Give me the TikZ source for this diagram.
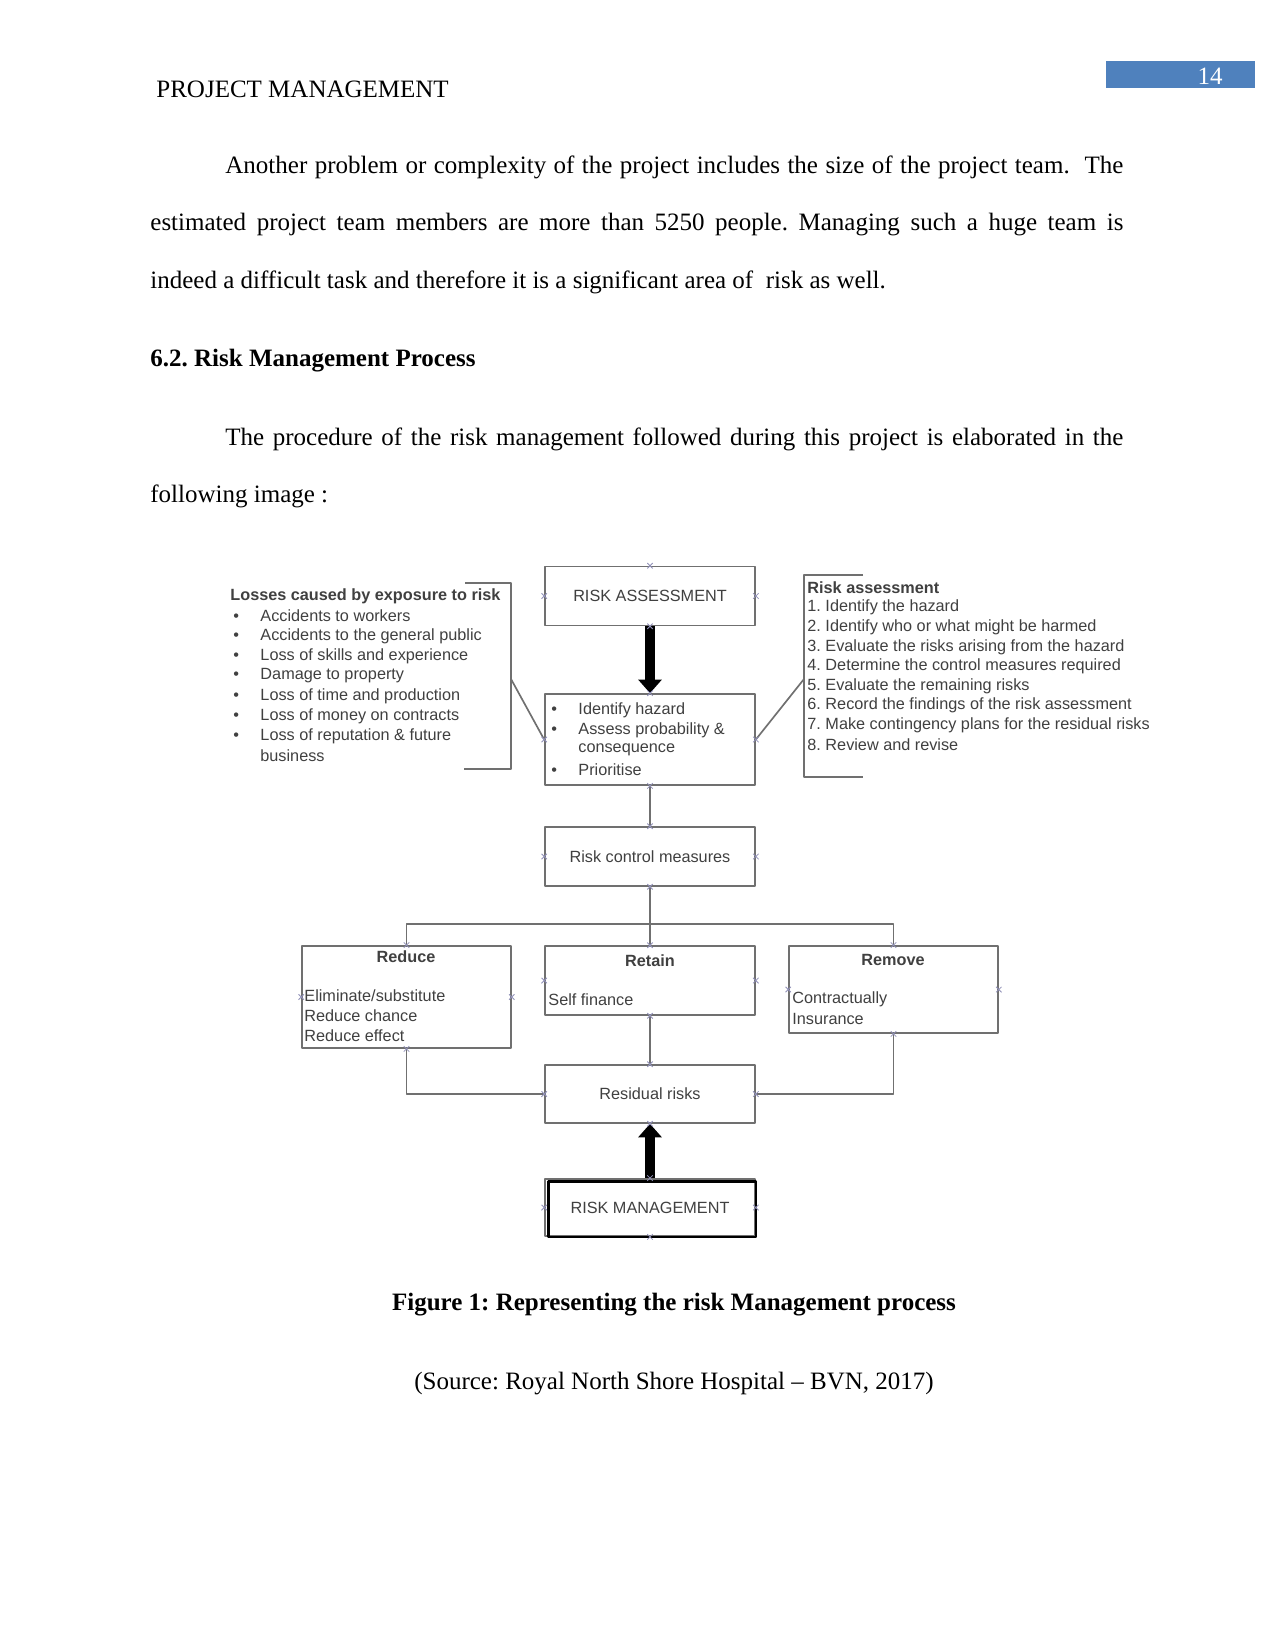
\documentclass[tikz,border=0pt]{standalone}
\usepackage{fontspec}
\setmainfont{Liberation Serif}
\newfontfamily\diagfont{Liberation Sans}
\usetikzlibrary{arrows.meta,positioning}
\definecolor{hdrblue}{HTML}{4F81BD}
\definecolor{boxgray}{HTML}{707070}
\definecolor{txtgray}{HTML}{404040}
\definecolor{markblue}{HTML}{9090B8}
\frenchspacing
\tikzset{
  body/.style={font=\fontsize{12}{14}\selectfont, inner sep=0pt},
  diagtxt/.style={font=\diagfont\fontsize{7.8}{9.6}\selectfont, text=txtgray, inner sep=0pt},
  stepbox/.style={diagtxt, draw=boxgray, line width=0.8pt, rectangle, minimum width=100.8pt},
  link/.style={draw=boxgray, line width=0.8pt},
  fatarrow/.style={line width=4.6pt, -{Triangle[width=11pt,length=6.5pt]}},
  cmark/.style={draw=markblue, line width=0.4pt},
}
\begin{document}
\begin{tikzpicture}[x=0.48pt, y=-0.48pt, line join=round]
\useasboundingbox (0,0) rectangle (1275,1650);
\fill[white] (0,0) rectangle (1275,1650);

% page header
\node[body, anchor=base west] (hdr) at (156,98) {PROJECT MANAGEMENT};
\fill[hdrblue] (1106,61) rectangle (1255,88);
\node[body, text=white] (pgno) at (1210,76) {14};

% text above the figure
\node[body, anchor=base west] (p1a) at (225,174) {\makebox[431pt][s]{Another problem or complexity of the project includes the size of the project team. \ The}};
\node[body, anchor=base west] (p1b) at (150,231) {\makebox[467pt][s]{estimated project team members are more than 5250 people. Managing such a huge team is}};
\node[body, anchor=base west] (p1c) at (150,289) {indeed a difficult task and therefore it is a significant area of \ risk as well.};
\node[body, anchor=base west, font=\fontsize{12}{14}\selectfont\bfseries] (sec) at (150,367) {6.2. Risk Management Process};
\node[body, anchor=base west] (p2a) at (225,446) {\makebox[431pt][s]{The procedure of the risk management followed during this project is elaborated in the}};
\node[body, anchor=base west] (p2b) at (150,502) {following image :};

% boxes of the flow
\node[stepbox, minimum height=28.3pt] (assess) at (650,596) {RISK ASSESSMENT};
\node[stepbox, minimum height=43.7pt] (identify) at (650,739.5) {};
\node[stepbox, minimum height=28.3pt] (rcm) at (650,856.5) {Risk control measures};
\node[stepbox, minimum width=100.3pt, minimum height=49pt] (reduce) at (406.5,997) {};
\node[stepbox, minimum height=33.1pt] (retain) at (650,980.5) {};
\node[stepbox, minimum width=100.3pt, minimum height=41.8pt] (remove) at (893.5,989.5) {};
\node[stepbox, minimum height=27.8pt] (residual) at (650,1094) {Residual risks};
\node[stepbox, minimum height=27.4pt] (riskman) at (650,1207.5) {RISK MANAGEMENT};
\draw[line width=1.2pt] ([xshift=2pt,yshift=-1.5pt]riskman.north west) rectangle (riskman.south east);

% texts inside the boxes
\foreach \t/\y [count=\i] in {Identify hazard/710, Assess probability \&/730, Prioritise/770}
  \node[diagtxt, anchor=west] (idb\i) at (551,\y) {\makebox[13pt][l]{\textbullet}\t};
\node[diagtxt, anchor=west] (idc) at (578,750) {consequence};

\node[diagtxt, font=\diagfont\fontsize{7.8}{9.6}\selectfont\bfseries] (redhd) at (406,957) {Reduce};
\node[diagtxt, anchor=west] (red1) at (304,996) {Eliminate/substitute};
\node[diagtxt, anchor=west] (red2) at (304,1016) {Reduce chance};
\node[diagtxt, anchor=west] (red3) at (304,1036) {Reduce effect};
\node[diagtxt, font=\diagfont\fontsize{7.8}{9.6}\selectfont\bfseries] (rethd) at (650,961) {Retain};
\node[diagtxt, anchor=west] (ret1) at (548,1000) {Self finance};
\node[diagtxt, font=\diagfont\fontsize{7.8}{9.6}\selectfont\bfseries] (remhd) at (893,960) {Remove};
\node[diagtxt, anchor=west] (rem1) at (792,999) {Contractually};
\node[diagtxt, anchor=west] (rem2) at (792,1019) {Insurance};

% left note
\node[diagtxt, anchor=west, font=\diagfont\fontsize{7.8}{9.6}\selectfont\bfseries] (losshd) at (230,596) {Losses caused by exposure to risk};
\foreach \t [count=\i] in {Accidents to workers, Accidents to the general public, Loss of skills and experience, Damage to property, Loss of time and production, Loss of money on contracts, Loss of reputation \& future}
  \node[diagtxt, anchor=west] (loss\i) at (233,596+20*\i) {\makebox[13pt][l]{\textbullet}\t};
\node[diagtxt, anchor=west] (loss8) at (260,756) {business};
\coordinate (lbt) at (465,583);
\coordinate (lbb) at (464,769);
\coordinate (lbk) at (511,679);
\draw[link] (lbt) -| (lbk) |- (lbb);

% right note
\node[diagtxt, anchor=west, font=\diagfont\fontsize{7.8}{9.6}\selectfont\bfseries] (rahd) at (807,588) {Risk assessment};
\foreach \t [count=\i] in {Identify the hazard, Identify who or what might be harmed, Evaluate the risks arising from the hazard, Determine the control measures required, Evaluate the remaining risks, Record the findings of the risk assessment, Make contingency plans for the residual risks, Review and revise}
  \node[diagtxt, anchor=west] (ra\i) at (807,588+19.6*\i) {\i. \t};
\coordinate (rbt) at (863,575);
\coordinate (rbb) at (863,777);
\coordinate (rbk) at (804,679);
\draw[link] (rbt) -| (rbk) |- (rbb);

% connectors
\draw[fatarrow] (assess.south) -- (identify.north);
\draw[link] (lbk) -- (identify.west);
\draw[link] (identify.east) -- (rbk);
\draw[link] (identify.south) -- (rcm.north);
\coordinate (split) at (650,924);
\draw[link] (rcm.south) -- (retain.north);
\draw[link] (reduce.north) |- (split) -| (remove.north);
\draw[link] (retain.south) -- (residual.north);
\draw[link] (reduce.south) |- (residual.west);
\draw[link] (remove.south) |- (residual.east);
\draw[fatarrow] (riskman.north) -- (residual.south);

% connection points
\foreach \b in {assess, identify, rcm, reduce, retain, remove, residual, riskman}
  \foreach \a in {north, south, east, west}
    \draw[cmark] (\b.\a) +(-1.3pt,-1.3pt) -- +(1.3pt,1.3pt) +(-1.3pt,1.3pt) -- +(1.3pt,-1.3pt);

% caption
\node[body, font=\fontsize{12}{14}\selectfont\bfseries] (cap) at (674,1305) {Figure 1: Representing the risk Management process};
\node[body] (src) at (674,1384) {(Source: Royal North Shore Hospital -- BVN, 2017)};
\end{tikzpicture}
\end{document}
